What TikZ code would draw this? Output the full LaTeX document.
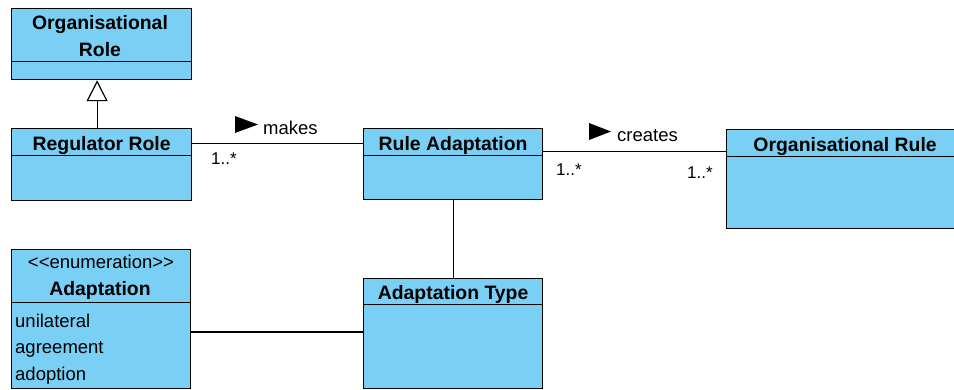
\documentclass[tikz,border=0pt]{standalone}
\usepackage{fontspec}
\setmainfont{Liberation Sans}
\usetikzlibrary{arrows.meta,calc}
\definecolor{umlblue}{RGB}{122,207,245}
\begin{document}
\begin{tikzpicture}[x=1pt,y=-1pt,
  box/.style={draw=black, fill=umlblue, line width=1.2pt, inner sep=0pt, anchor=north west},
  hd/.style={box, font=\fontsize{19.4}{27}\selectfont\bfseries, text height=17pt, text depth=0pt},
  hdtxt/.style={font=\fontsize{19.4}{27}\selectfont\bfseries, inner sep=0pt, anchor=base},
  lbl/.style={font=\fontsize{18.5}{22}\selectfont, inner sep=0pt, anchor=base west},
  mult/.style={font=\fontsize{17}{20}\selectfont, inner sep=0pt, anchor=base west},
  conn/.style={line width=1.2pt},
  dirmark/.style={fill=black}]
\useasboundingbox (0,0) rectangle (954,389);
\clip (0,0) rectangle (954,389);

% Organisational Role
\node[box, minimum width=180, minimum height=53] (orghd) at (11,8) {};
\node[hdtxt] (orgt1) at (100,29) {Organisational};
\node[hdtxt] (orgt2) at (100,56) {Role};
\node[box, minimum width=180, minimum height=18] (orgbd) at (11,61) {};

% Regulator Role
\node[hd, minimum width=180, minimum height=27] (reghd) at (11,128) {Regulator Role};
\node[box, minimum width=180, minimum height=45] (regbd) at (11,155) {};

% Rule Adaptation
\node[hd, minimum width=179, minimum height=27] (rahd) at (363,128) {Rule Adaptation};
\node[box, minimum width=179, minimum height=44] (rabd) at (363,155) {};

% Organisational Rule
\node[hd, text height=16pt, minimum width=237, minimum height=27] (orhd) at (726,129) {Organisational Rule};
\node[box, minimum width=237, minimum height=72] (orbd) at (726,156) {};

% Adaptation (enumeration)
\node[box, minimum width=179, minimum height=53] (adhd) at (11,249) {};
\node[lbl, anchor=base] (adst) at (101,268) {{<}{<}enumeration{>}{>}};
\node[hdtxt] (adt) at (100,295) {Adaptation};
\node[box, minimum width=179, minimum height=86] (adbd) at (11,302) {};
\node[lbl] (lit1) at (15,327) {unilateral};
\node[lbl] (lit2) at (15,353) {agreement};
\node[lbl] (lit3) at (15,380) {adoption};

% Adaptation Type
\node[hd, text height=16pt, minimum width=179, minimum height=26] (athd) at (363,278) {Adaptation Type};
\node[box, minimum width=179, minimum height=84] (atbd) at (363,304) {};

% Generalisation: Regulator Role -> Organisational Role
\draw[conn, -{Triangle[open, fill=white, width=21pt, length=21pt, line width=1.2pt]}]
  ([xshift=-4.5pt]reghd.north) -- ([xshift=-4.5pt]orgbd.south);

% makes
\draw[conn] ([yshift=-1.5pt]reghd.east) -- ([yshift=-1.5pt]rahd.west);
\fill[dirmark] (235,116) -- (258,124.5) -- (235,133) -- cycle;
\node[lbl] (makes) at (263,134.3) {makes};
\node[mult] (m1) at (211,164) {1..*};

% creates
\draw[conn] ([yshift=-9.5pt]rahd.east) -- ([yshift=-8.5pt]orhd.west);
\fill[dirmark] (589,123) -- (611,131.5) -- (589,140) -- cycle;
\node[lbl] (creates) at (617,141) {creates};
\node[mult] (m2) at (556,175) {1..*};
\node[mult] (m3) at (687,178) {1..*};

% Rule Adaptation -- Adaptation Type
\draw[conn] (rabd.south) -- (athd.north);

% Adaptation -- Adaptation Type
\draw[conn] ([yshift=-30pt]adbd.north east) -- ([yshift=-28pt]atbd.north west);
\end{tikzpicture}
\end{document}
